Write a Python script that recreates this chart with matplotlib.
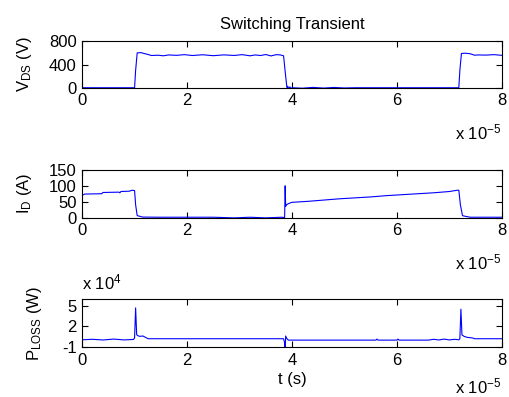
import matplotlib
matplotlib.use("Agg")
import matplotlib.pyplot as plt

plt.rcParams["font.family"] = ["Liberation Sans", "DejaVu Sans"]
plt.rcParams["font.size"] = 12
plt.rcParams["mathtext.default"] = "regular"
plt.rcParams["axes.unicode_minus"] = False

# time axis in units of 1e-5 s
t_vds = [0, 1.00, 1.02, 1.05, 1.12, 1.18, 1.25, 1.32, 1.45, 1.55, 1.65, 1.80, 1.95,
         2.10, 2.30, 2.50, 2.70, 2.90, 3.05, 3.20, 3.30, 3.40, 3.50, 3.60, 3.70,
         3.78, 3.84, 3.87, 3.90, 3.91, 3.92, 3.94, 3.96, 3.98, 4.00, 4.20, 4.40,
         4.60, 4.80, 5.00, 5.20, 6.00, 7.00, 7.18, 7.20, 7.23, 7.30, 7.40, 7.48,
         7.55, 7.70, 7.85, 8.00]
vds = [0, 0, 300, 600, 605, 590, 575, 555, 560, 550, 565, 558, 570,
       555, 568, 552, 566, 556, 570, 550, 565, 555, 572, 548, 570,
       565, 550, 280, 30, -45, 25, -25, 15, -15, 0, -8, 6,
       -6, 5, -4, 0, 0, 0, 0, 300, 590, 595, 585, 560,
       565, 562, 570, 558]

t_id = [0, 0.05, 0.37, 0.40, 0.70, 0.72, 0.74, 0.90, 0.95, 1.00, 1.02, 1.05, 1.10,
        1.15, 1.50, 2.50, 2.90, 3.20, 3.50, 3.80, 3.86, 3.87, 3.88, 3.90, 3.95,
        4.00, 4.30, 4.60, 4.90, 5.20, 5.50, 5.80, 6.10, 6.40, 6.70, 7.00, 7.15,
        7.18, 7.21, 7.25, 7.30, 7.40, 8.00]
i_d = [70, 74, 75, 79, 80, 78, 82, 83, 86, 85, 40, 6, 4,
       1.5, 1, 1, -1, 1, -1, 1, 0, 100, 35, 41, 45,
       48, 51, 55, 59, 62, 65, 69, 72, 75, 78, 82, 86,
       86, 40, 6, 4, 1, 1]

t_p = [0, 0.20, 0.40, 0.60, 0.80, 0.98, 1.00, 1.02, 1.04, 1.06, 1.10, 1.16, 1.22,
       1.26, 2.00, 3.00, 3.84, 3.86, 3.87, 3.88, 3.90, 3.93, 4.00, 5.60, 5.62,
       5.64, 6.00, 6.02, 6.04, 6.60, 6.70, 6.80, 6.90, 7.00, 7.10, 7.18, 7.20,
       7.22, 7.24, 7.28, 7.34, 7.40, 7.45, 7.48, 8.00]
p_loss = [0.05, 0.12, 0.02, 0.15, 0.03, 0.10, 0.30, 4.70, 0.80, 0.65, 0.55, 0.60, 0.35,
          0.20, 0.20, 0.20, 0.20, -0.40, -1.50, 0.60, 0.25, 0.0, 0.0, 0.0, 0.15,
          0.0, 0.0, 0.15, 0.0, 0.0, 0.12, 0.02, 0.15, 0.03, 0.12, 0.05, 0.20,
          4.50, 0.75, 0.55, 0.40, 0.35, 0.30, 0.20, 0.20]

x_ticks = [0, 2, 4, 6, 8]

panels = [
    (t_vds, vds, (0, 800), [0, 400, 800], r"$V_{DS}$ (V)"),
    (t_id, i_d, (0, 150), [0, 50, 100, 150], r"$I_{D}$ (A)"),
    (t_p, p_loss, (-1, 6), [-1, 2, 5], r"$P_{LOSS}$ (W)"),
]
positions = [
    [0.161, 0.779, 0.823, 0.117],
    [0.161, 0.452, 0.823, 0.120],
    [0.161, 0.126, 0.823, 0.121],
]
exp_offsets = [-25, -25, -21]

fig = plt.figure(figsize=(5.1, 3.97), dpi=100)
axes = []
for (t, y, ylim, yticks, ylabel), pos, off in zip(panels, positions, exp_offsets):
    ax = fig.add_axes(pos)
    ax.plot(t, y, color="#0000ff", linewidth=0.8)
    ax.set_xlim(0, 8)
    ax.set_ylim(*ylim)
    ax.set_xticks(x_ticks)
    ax.set_yticks(yticks)
    ax.set_ylabel(ylabel, labelpad=11)
    ax.tick_params(direction="in", length=4, top=True, right=True, pad=4)
    ax.annotate("x 10$^{-5}$", xy=(1, 0), xycoords="axes fraction",
                xytext=(0, off), textcoords="offset points",
                ha="right", va="top")
    axes.append(ax)

axes[0].set_title("Switching Transient", fontsize=12, pad=9)
axes[2].set_xlabel("t (s)", labelpad=3)
axes[2].set_ylabel(panels[2][4], labelpad=13)
axes[2].annotate("x 10$^{4}$", xy=(0, 1), xycoords="axes fraction",
                 xytext=(0, 5), textcoords="offset points",
                 ha="left", va="bottom")

fig.savefig("out.png", dpi=100)
